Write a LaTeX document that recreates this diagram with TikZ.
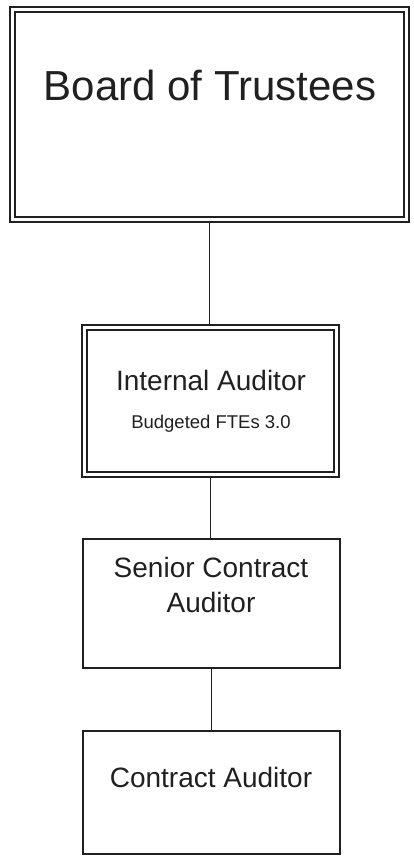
\documentclass[tikz,border=0pt]{standalone}
\usepackage{fontspec}
\setmainfont{Liberation Sans}
\definecolor{ink}{HTML}{202020}
\begin{document}
\begin{tikzpicture}[x=1pt,y=-1pt,
  box/.style={draw=ink, line width=2pt, inner sep=0pt, fill=white},
  outerbox/.style={draw=ink, line width=2.6pt, inner sep=0pt, fill=white},
  conn/.style={draw=ink, line width=1.8pt},
  lbl/.style={anchor=base, inner sep=0pt, text=ink}]
\useasboundingbox (0,0) rectangle (414,857);
% Board of Trustees
\node[outerbox, minimum width=399pt, minimum height=215pt] (board) at (209.5,114.5) {};
\draw[ink, line width=1.8pt] ([shift={(6.5,6.5)}]board.north west) rectangle ([shift={(-6.5,-6.5)}]board.south east);
\node[lbl, font=\fontsize{42}{50}\selectfont] (boardt) at (210,100) {Board of Trustees};
% Internal Auditor
\node[outerbox, minimum width=257pt, minimum height=152pt] (ia) at (210.5,401) {};
\draw[ink, line width=1.8pt] ([shift={(6,6)}]ia.north west) rectangle ([shift={(-6,-6)}]ia.south east);
\node[lbl, font=\fontsize{28}{34}\selectfont] (iat) at (211,390) {Internal Auditor};
\node[lbl, font=\fontsize{18.5}{22}\selectfont] (iab) at (211,428) {Budgeted FTEs 3.0};
% Senior Contract Auditor
\node[box, minimum width=257pt, minimum height=129pt] (sca) at (211.5,603.5) {};
\node[lbl, font=\fontsize{28}{34}\selectfont] (scat1) at (211,577) {Senior Contract};
\node[lbl, font=\fontsize{28}{34}\selectfont] (scat2) at (211,612) {Auditor};
% Contract Auditor
\node[box, minimum width=257pt, minimum height=123pt] (ca) at (211.5,792.5) {};
\node[lbl, font=\fontsize{28}{34}\selectfont] (cat) at (211,787) {Contract Auditor};
% connectors
\draw[conn] (board.south) -- (board.south |- ia.north);
\draw[conn] (ia.south) -- (ia.south |- sca.north);
\draw[conn] (sca.south) -- (sca.south |- ca.north);
\end{tikzpicture}
\end{document}
